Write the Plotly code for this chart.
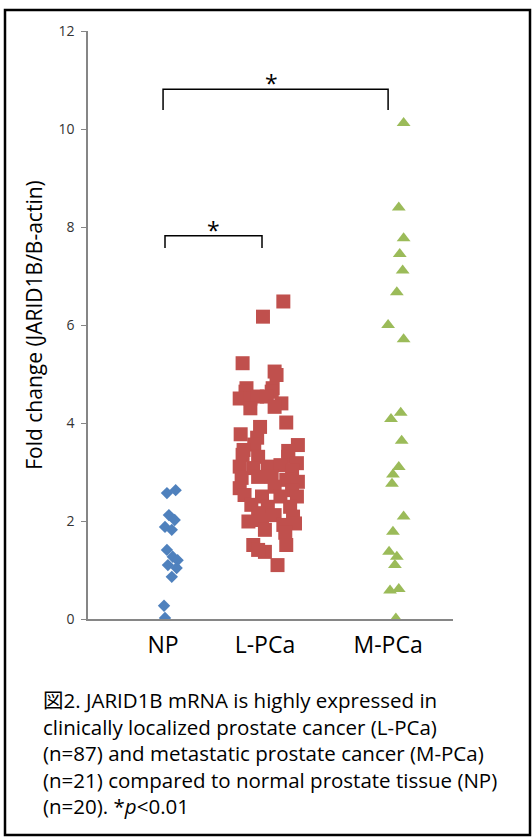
import plotly.graph_objects as go

# ---------------- data ----------------
categories = ["NP", "L-PCa", "M-PCa"]
category_label_x = [0.98, 2.03, 3.30]

np_x = [1.02, 1.11, 1.04, 1.10, 1.00, 1.07, 1.02, 1.08, 1.13, 1.03, 1.12, 1.07, 0.99, 1.00]
np_y = [2.57, 2.63, 2.12, 2.02, 1.88, 1.82, 1.41, 1.27, 1.20, 1.10, 1.04, 0.86, 0.27, 0.02]

lpca_x = [2.22, 2.01, 1.80, 2.13, 2.15, 1.84, 2.11,
          1.83, 1.77, 1.88, 1.95, 2.10, 2.05, 2.20, 2.13, 1.88,
          2.25, 1.98, 1.78, 1.95, 1.92, 1.81, 2.37, 2.27,
          1.80, 1.96, 2.27, 2.36, 1.77, 1.91, 2.06, 2.19, 2.31,
          1.79, 1.96, 2.10, 2.25, 2.37, 1.77, 2.13, 2.31,
          1.82, 2.00, 2.19, 2.36, 1.89, 2.06, 2.29, 1.96, 2.13, 2.32,
          1.86, 2.00, 2.22, 2.34, 2.03, 2.24, 1.91, 2.03, 2.25, 1.96, 2.16]
lpca_y = [6.48, 6.17, 5.22, 5.05, 4.98, 4.71, 4.71,
          4.64, 4.50, 4.50, 4.54, 4.64, 4.54, 4.40, 4.33, 4.30,
          4.01, 3.92, 3.77, 3.70, 3.56, 3.45, 3.55, 3.43,
          3.35, 3.31, 3.31, 3.18, 3.11, 3.08, 3.11, 3.14, 3.04,
          2.88, 2.90, 2.90, 2.84, 2.80, 2.67, 2.70, 2.63,
          2.53, 2.50, 2.50, 2.50, 2.33, 2.29, 2.29, 2.16, 2.12, 2.09,
          1.99, 2.02, 1.92, 1.95, 1.82, 1.76, 1.51, 1.37, 1.51, 1.41, 1.10]

mpca_x = [3.46, 3.41, 3.46, 3.42, 3.45, 3.39, 3.30, 3.46, 3.33, 3.43, 3.44,
          3.41, 3.35, 3.34, 3.46, 3.35, 3.31, 3.39, 3.37, 3.32, 3.41, 3.38]
mpca_y = [10.12, 8.40, 7.77, 7.45, 7.11, 6.67, 6.00, 5.71, 4.08, 4.21, 3.64,
          3.10, 2.95, 2.76, 2.09, 1.78, 1.37, 1.27, 1.10, 0.58, 0.61, 0.01]

y_ticks = [0, 2, 4, 6, 8, 10, 12]
y_title = "Fold change (JARID1B/B-actin)"

# significance brackets: (x start, x end, bar y, leg bottom y)
brackets = [(0.98, 3.30, 10.81, 10.39), (1.00, 2.00, 7.82, 7.57)]
star_x = [2.10, 1.50]

caption_lines = [
    "図2. JARID1B mRNA is highly expressed in",
    "clinically localized prostate cancer (L-PCa)",
    "(n=87) and metastatic prostate cancer (M-PCa)",
    "(n=21) compared to normal prostate tissue (NP)",
    "(n=20). *<i>p</i><0.01",
]

# ---------------- figure ----------------
W, H = 532, 837
L, R, T, B = 88, 79, 31, 218
pw, ph = W - L - R, H - T - B


def px_x(p):
    return (p - L) / pw


def px_y(p):
    return (H - B - p) / ph


FONT = "Open Sans, Noto Sans CJK JP, sans-serif"

fig = go.Figure()
fig.add_trace(go.Scatter(x=np_x, y=np_y, mode="markers",
                         marker=dict(symbol="diamond", size=9.5, color="#4F81BD",
                                     line=dict(width=0)), showlegend=False))
fig.add_trace(go.Scatter(x=lpca_x, y=lpca_y, mode="markers",
                         marker=dict(symbol="square", size=14, color="#C0504D",
                                     line=dict(width=0)), showlegend=False))
fig.add_trace(go.Scatter(x=mpca_x, y=mpca_y, mode="markers",
                         marker=dict(symbol="triangle-up", size=12, color="#9BBB59",
                                     line=dict(width=0)), showlegend=False))

shapes = []
for x0, x1, yb, yl in brackets:
    shapes.append(dict(type="path", xref="x", yref="y",
                       path=f"M {x0},{yl} L {x0},{yb} L {x1},{yb} L {x1},{yl}",
                       line=dict(color="black", width=1.5)))
# outer frame
shapes.append(dict(type="rect", xref="paper", yref="paper",
                   x0=px_x(5), x1=px_x(530), y0=px_y(835), y1=px_y(10),
                   line=dict(color="black", width=2.5)))

annotations = []
for sx, (x0, x1, yb, yl) in zip(star_x, brackets):
    annotations.append(dict(x=sx, y=yb, xref="x", yref="y",
                            text="*", showarrow=False, yanchor="bottom",
                            yshift=-12,
                            font=dict(family=FONT, size=23, color="black")))

cap_y = [700, 727, 753, 780, 806]
for line, py in zip(caption_lines, cap_y):
    annotations.append(dict(x=px_x(41), y=px_y(py), xref="paper", yref="paper",
                            text=line, showarrow=False, xanchor="left",
                            yanchor="middle",
                            font=dict(family=FONT, size=20.5, color="black")))

fig.update_layout(
    width=W, height=H,
    margin=dict(l=L, r=R, t=T, b=B),
    paper_bgcolor="white", plot_bgcolor="white",
    shapes=shapes, annotations=annotations,
    font=dict(family=FONT),
    xaxis=dict(range=[(88 - 68) / 97, (453 - 68) / 97],
               tickvals=category_label_x, ticktext=categories,
               showgrid=False, zeroline=False, showline=True,
               linecolor="#868686", linewidth=1.5, ticks="",
               ticklabelstandoff=5,
               tickfont=dict(family=FONT, size=23, color="black")),
    yaxis=dict(range=[0, 12], tickvals=y_ticks, showgrid=False,
               zeroline=False, showline=True, linecolor="#868686",
               linewidth=1.5, ticks="outside", ticklen=5, tickcolor="#868686",
               ticklabelstandoff=4,
               tickfont=dict(family=FONT, size=14, color="#333333"),
               title=dict(text=y_title, standoff=10,
                          font=dict(family=FONT, size=21, color="black"))),
)

fig.write_html("out.html", config={"displayModeBar": False},
               post_script="document.body.style.margin='0px';")
